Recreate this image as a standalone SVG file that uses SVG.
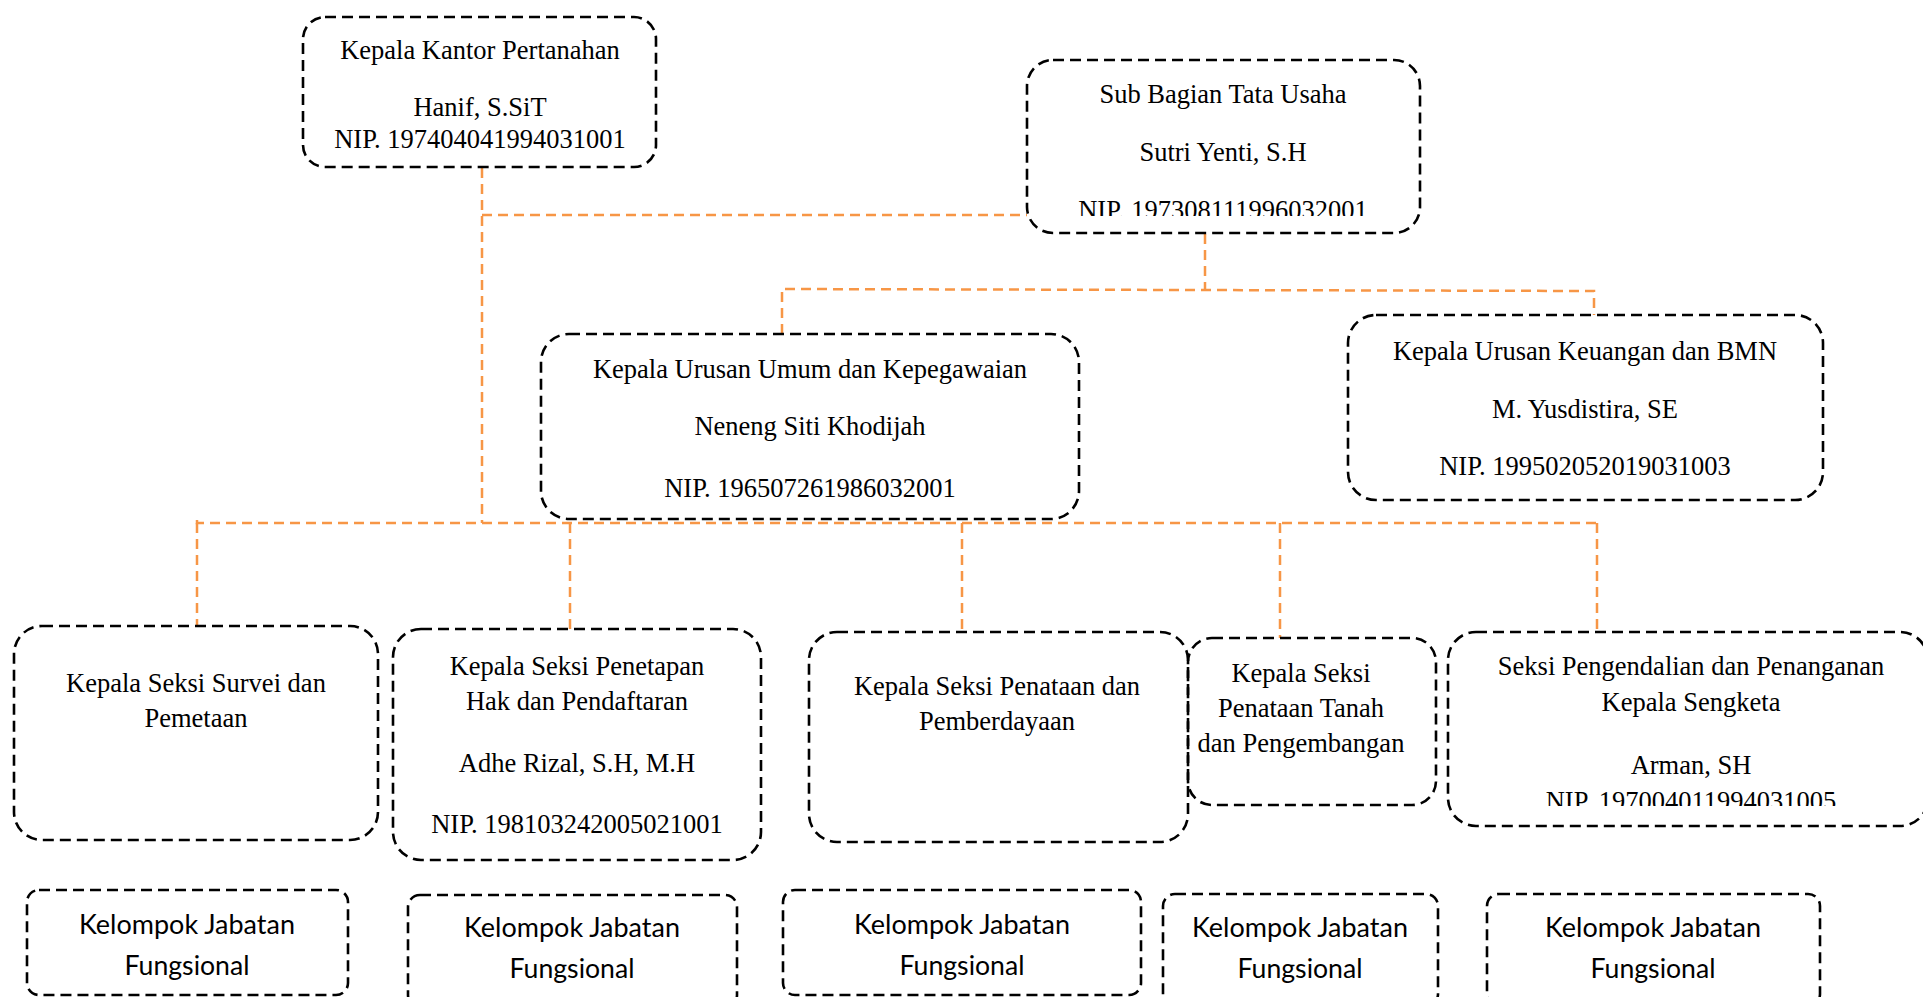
<svg xmlns="http://www.w3.org/2000/svg" width="1923" height="997" viewBox="0 0 1923 997">
<style>
.box{fill:none;stroke:#000;stroke-width:2.6;stroke-dasharray:11 6}
.conn{fill:none;stroke:#F79646;stroke-width:2.5;stroke-dasharray:10 6}
.t{font-family:"Liberation Serif","Times New Roman",serif;font-size:26.5px;text-anchor:middle;fill:#000}
.f{font-family:Lato,"Liberation Sans",sans-serif;font-size:27px;text-anchor:middle;fill:#000}
</style>
<defs>
<clipPath id="c2"><rect x="1027" y="60" width="393" height="156"/></clipPath>
<clipPath id="c9"><rect x="1448" y="632" width="480" height="174"/></clipPath>
</defs>
<rect width="1923" height="997" fill="#fff"/>
<g id="connectors">
<path class="conn" d="M482 168 V523"/>
<path class="conn" d="M482 215 H1027"/>
<path class="conn" d="M1205 234 V289"/>
<path class="conn" d="M782 334 V289 L1594 291 V315"/>
<path class="conn" d="M197 520 V523 H1597"/>
<path class="conn" d="M197 523 V626"/>
<path class="conn" d="M570 523 V629"/>
<path class="conn" d="M962 523 V632"/>
<path class="conn" d="M1280 523 V638"/>
<path class="conn" d="M1597 523 V632"/>
</g>
<g id="kepala-kantor">
<rect class="box" x="303" y="17" width="353" height="150" rx="22"/>
<text class="t" x="480" y="59">Kepala Kantor Pertanahan</text>
<text class="t" x="480" y="116">Hanif, S.SiT</text>
<text class="t" x="480" y="148">NIP. 197404041994031001</text>
</g>
<g id="sub-bagian">
<rect class="box" x="1027" y="60" width="393" height="173" rx="26"/>
<text class="t" x="1223" y="103">Sub Bagian Tata Usaha</text>
<text class="t" x="1223" y="161">Sutri Yenti, S.H</text>
<text class="t" x="1223" y="218.5" clip-path="url(#c2)">NIP. 197308111996032001</text>
</g>
<g id="urusan-umum">
<rect class="box" x="541" y="334" width="538" height="185" rx="28"/>
<text class="t" x="810" y="378">Kepala Urusan Umum dan Kepegawaian</text>
<text class="t" x="810" y="435">Neneng Siti Khodijah</text>
<text class="t" x="810" y="497">NIP. 196507261986032001</text>
</g>
<g id="urusan-keuangan">
<rect class="box" x="1348" y="315" width="475" height="185" rx="28"/>
<text class="t" x="1585" y="360">Kepala Urusan Keuangan dan BMN</text>
<text class="t" x="1585" y="418">M. Yusdistira, SE</text>
<text class="t" x="1585" y="475">NIP. 199502052019031003</text>
</g>
<g id="seksi-survei">
<rect class="box" x="14" y="626" width="364" height="214" rx="28"/>
<text class="t" x="196" y="692">Kepala Seksi Survei dan</text>
<text class="t" x="196" y="727">Pemetaan</text>
</g>
<g id="seksi-penetapan">
<rect class="box" x="393" y="629" width="368" height="231" rx="28"/>
<text class="t" x="577" y="675">Kepala Seksi Penetapan</text>
<text class="t" x="577" y="710">Hak dan Pendaftaran</text>
<text class="t" x="577" y="772">Adhe Rizal, S.H, M.H</text>
<text class="t" x="577" y="833">NIP. 198103242005021001</text>
</g>
<g id="seksi-penataan">
<rect class="box" x="809" y="632" width="379" height="210" rx="28"/>
<text class="t" x="997" y="695">Kepala Seksi Penataan dan</text>
<text class="t" x="997" y="730">Pemberdayaan</text>
</g>
<g id="seksi-penataan-tanah">
<rect class="box" x="1188" y="638" width="248" height="167" rx="24"/>
<text class="t" x="1301" y="682">Kepala Seksi</text>
<text class="t" x="1301" y="717">Penataan Tanah</text>
<text class="t" x="1301" y="752">dan Pengembangan</text>
</g>
<g id="seksi-pengendalian">
<rect class="box" x="1448" y="632" width="480" height="194" rx="28"/>
<text class="t" x="1691" y="675">Seksi Pengendalian dan Penanganan</text>
<text class="t" x="1691" y="711">Kepala Sengketa</text>
<text class="t" x="1691" y="774">Arman, SH</text>
<text class="t" x="1691" y="809.5" clip-path="url(#c9)">NIP. 197004011994031005</text>
</g>
<g id="fungsional-1">
<rect class="box" x="27" y="890" width="321" height="105" rx="12"/>
<text class="f" x="187" y="934" textLength="216" lengthAdjust="spacingAndGlyphs">Kelompok Jabatan</text>
<text class="f" x="187" y="975" textLength="125" lengthAdjust="spacingAndGlyphs">Fungsional</text>
</g>
<g id="fungsional-2">
<rect class="box" x="408" y="895" width="329" height="112" rx="12"/>
<text class="f" x="572" y="937" textLength="216" lengthAdjust="spacingAndGlyphs">Kelompok Jabatan</text>
<text class="f" x="572" y="978" textLength="125" lengthAdjust="spacingAndGlyphs">Fungsional</text>
</g>
<g id="fungsional-3">
<rect class="box" x="783" y="890" width="358" height="105" rx="12"/>
<text class="f" x="962" y="934" textLength="216" lengthAdjust="spacingAndGlyphs">Kelompok Jabatan</text>
<text class="f" x="962" y="975" textLength="125" lengthAdjust="spacingAndGlyphs">Fungsional</text>
</g>
<g id="fungsional-4">
<rect class="box" x="1163" y="894" width="275" height="112" rx="12"/>
<text class="f" x="1300" y="937" textLength="216" lengthAdjust="spacingAndGlyphs">Kelompok Jabatan</text>
<text class="f" x="1300" y="978" textLength="125" lengthAdjust="spacingAndGlyphs">Fungsional</text>
</g>
<g id="fungsional-5">
<rect class="box" x="1487" y="894" width="333" height="112" rx="12"/>
<text class="f" x="1653" y="937" textLength="216" lengthAdjust="spacingAndGlyphs">Kelompok Jabatan</text>
<text class="f" x="1653" y="978" textLength="125" lengthAdjust="spacingAndGlyphs">Fungsional</text>
</g>
</svg>
